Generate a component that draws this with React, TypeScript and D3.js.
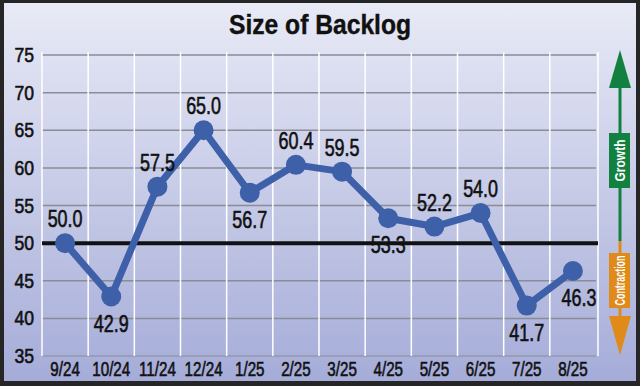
import React from "react";
import * as d3 from "d3";

const months = ["9/24", "10/24", "11/24", "12/24", "1/25", "2/25", "3/25", "4/25", "5/25", "6/25", "7/25", "8/25"];
const backlog = [50.0, 42.9, 57.5, 65.0, 56.7, 60.4, 59.5, 53.3, 52.2, 54.0, 41.7, 46.3];
// where the value label sits relative to its point
const labelPos = ["above", "below", "above", "above", "below", "above", "above", "below", "above", "above", "below", "right"];
const yTicks = [35, 40, 45, 50, 55, 60, 65, 70, 75];

const W = 640, H = 386;
const font = "'Liberation Sans', Arial, sans-serif";

// helvetica condensed look: squeeze Liberation Sans horizontally
const Narrow = ({ x, y, sx, size, anchor = "middle", weight = "normal", children }: any) => (
    <g transform={`translate(${x},${y}) scale(${sx},1)`}>
        <text x={0} y={0} textAnchor={anchor} fontFamily={font} fontWeight={weight} fontSize={size}
            fill="#111" stroke="#111" strokeWidth={0.6}>{children}</text>
    </g>
);

const App = () => {
    const x = d3.scaleBand().domain(months).range([42, 596]).padding(0);
    const y = d3.scaleLinear().domain([35, 75]).range([356, 55]);
    const cx = (i: number) => x(months[i])! + x.bandwidth() / 2;
    const line = d3.line<number>()
        .x((d, i) => cx(i))
        .y(d => y(d));

    return (
        <svg width={W} height={H} style={{ position: "absolute", left: 0, top: 0 }}>
            <defs>
                <linearGradient id="bg" x1="0" y1="0" x2="0" y2="1">
                    <stop offset="0" stopColor="#e8eaf6" />
                    <stop offset="1" stopColor="#a5acd8" />
                </linearGradient>
            </defs>
            <rect x={0} y={0} width={W} height={H} fill="#262626" />
            <rect x={4} y={3} width={W - 8} height={H - 8} fill="url(#bg)" />

            <text x={320} y={34} textAnchor="middle" fontFamily={font} fontWeight="bold" fontSize={28} fill="#111"
                stroke="#111" strokeWidth={0.4} textLength={182} lengthAdjust="spacingAndGlyphs">
                Size of Backlog
            </text>

            {yTicks.map(t => (
                <g key={t}>
                    {t !== 50 && t !== 35 && (
                        <line x1={42} x2={596} y1={y(t)} y2={y(t)} stroke="#8a8c96" strokeWidth={1.5} />
                    )}
                    <Narrow x={34} y={y(t) + 7} sx={0.88} size={20} anchor="end">{t}</Narrow>
                </g>
            ))}
            <line x1={42} x2={596} y1={y(35)} y2={y(35)} stroke="#8a8c96" strokeWidth={1} />

            {months.map(m => (
                <line key={m} x1={x(m)!} x2={x(m)!} y1={y(75) - 3} y2={y(35)} stroke="#ffffff" strokeWidth={1.5} />
            ))}
            <line x1={598} x2={598} y1={y(75) - 3} y2={y(35)} stroke="#ffffff" strokeWidth={1.5} />

            {months.map(m => (
                <Narrow key={m} x={x(m)! + x.bandwidth() / 2} y={376} sx={0.76} size={20}>{m}</Narrow>
            ))}

            <line x1={42} x2={598} y1={y(50)} y2={y(50)} stroke="#111" strokeWidth={4} />

            <path d={line(backlog) || ""} fill="none" stroke="#3d60a8" strokeWidth={7} strokeLinejoin="round" />
            {backlog.map((v, i) => (
                <circle key={i} cx={cx(i)} cy={y(v)} r={10} fill="#3d60a8" />
            ))}
            {backlog.map((v, i) => {
                const pos = labelPos[i];
                const ly = pos === "above" ? y(v) - 16 : y(v) + 35;
                const lx = pos === "right" ? cx(i) + 6 : cx(i);
                return (
                    <Narrow key={i} x={lx} y={ly} sx={0.78} size={23}>{v.toFixed(1)}</Narrow>
                );
            })}

            {/* growth / contraction arrows */}
            <line x1={620} x2={620} y1={80} y2={241} stroke="#12803e" strokeWidth={3} />
            <path d="M620,50 L609,88 L631,88 Z" fill="#12803e" />
            <rect x={609} y={133} width={21} height={55} fill="#12803e" />
            <text transform="translate(625,160.5) rotate(-90)" textAnchor="middle" fontFamily={font} fontWeight="bold" fontSize={14} fill="#fff"
                textLength={42} lengthAdjust="spacingAndGlyphs">Growth</text>

            <line x1={620} x2={620} y1={241} y2={320} stroke="#e08a1a" strokeWidth={3} />
            <path d="M620,355 L609,316 L631,316 Z" fill="#e08a1a" />
            <rect x={609} y={253} width={21} height={55} fill="#e08a1a" />
            <text transform="translate(625,280.5) rotate(-90)" textAnchor="middle" fontFamily={font} fontWeight="bold" fontSize={14} fill="#fff"
                textLength={50} lengthAdjust="spacingAndGlyphs">Contraction</text>
        </svg>
    );
};

export default App;
